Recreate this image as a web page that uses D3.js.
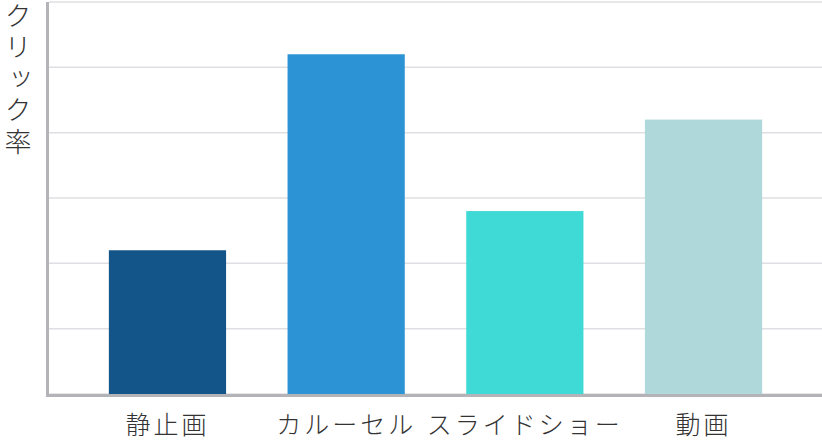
<!DOCTYPE html>
<html>
<head>
<meta charset="utf-8">
<script src="https://cdn.jsdelivr.net/npm/d3@7"></script>
<style>
  body { margin: 0; background: #fff; }
  svg { display: block; }
  .label { font-family: "Noto Sans CJK JP", sans-serif; font-weight: 300; fill: #333; }
</style>
</head>
<body>
<svg id="chart"></svg>
<script>
const categories = ['静止画', 'カルーセル', 'スライドショー', '動画'];
const values = [22, 52, 28, 42];
const colors = ['#135588', '#2c93d5', '#3fdad6', '#aed8d9'];
const yTicks = [0, 10, 20, 30, 40, 50, 60];
const yTitle = 'クリック率';

const width = 822;
const height = 442;
const margin = {top: 2, right: 0, bottom: 48, left: 49};

const svg = d3.select('#chart')
    .attr('width', width)
    .attr('height', height);

const x = d3.scaleBand()
    .domain(categories)
    .range([margin.left, width - margin.right])
    .paddingInner(0.344)
    .paddingOuter(0.335);

const y = d3.scaleLinear()
    .domain([0, 60])
    .range([height - margin.bottom, margin.top]);

// gridlines
svg.append('g')
    .selectAll('line')
    .data(yTicks)
    .enter()
    .append('line')
    .attr('x1', margin.left)
    .attr('x2', width)
    .attr('y1', (d) => y(d))
    .attr('y2', (d) => y(d))
    .attr('stroke', '#dfdfe3')
    .attr('stroke-width', 1.5);

// bars
svg.append('g')
    .selectAll('rect')
    .data(values)
    .enter()
    .append('rect')
    .attr('x', (d, i) => x(categories[i]))
    .attr('y', (d) => y(d))
    .attr('width', x.bandwidth())
    .attr('height', (d) => y(0) - y(d))
    .attr('fill', (d, i) => colors[i]);

// axes lines
svg.append('line')
    .attr('x1', margin.left - 1.5)
    .attr('x2', margin.left - 1.5)
    .attr('y1', margin.top)
    .attr('y2', y(0) + 3)
    .attr('stroke', '#b4b4b8')
    .attr('stroke-width', 3);

svg.append('line')
    .attr('x1', margin.left - 3)
    .attr('x2', width)
    .attr('y1', y(0) + 1.5)
    .attr('y2', y(0) + 1.5)
    .attr('stroke', '#b4b4b8')
    .attr('stroke-width', 3);

// category labels
const xAxis = d3.axisBottom(x).tickSize(0).tickPadding(0);
const gx = svg.append('g')
    .attr('transform', 'translate(0,' + (y(0) + 40) + ')')
    .call(xAxis);
gx.select('.domain').remove();
gx.selectAll('text')
    .attr('class', 'label')
    .attr('dy', 0)
    .style('font-size', '25px')
    .style('letter-spacing', '3px');

// vertical y title
svg.append('text')
    .attr('class', 'label')
    .attr('x', 18)
    .attr('y', 2)
    .style('writing-mode', 'vertical-rl')
    .style('text-orientation', 'upright')
    .style('font-size', '27px')
    .style('letter-spacing', '4.5px')
    .text(yTitle);
</script>
</body>
</html>
